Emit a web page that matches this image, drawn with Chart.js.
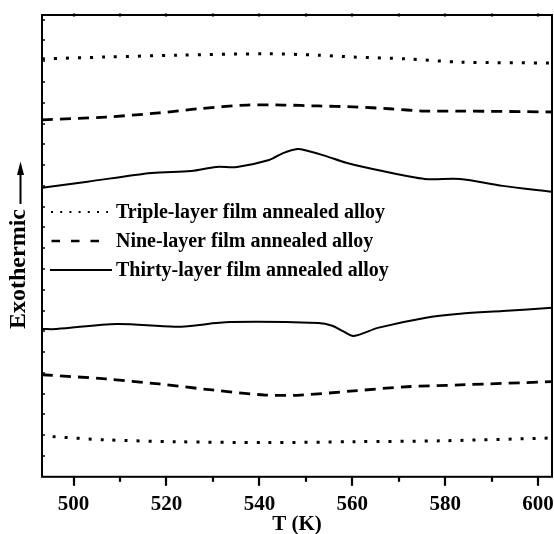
<!DOCTYPE html>
<html>
<head>
<meta charset="utf-8">
<script src="https://cdn.jsdelivr.net/npm/chart.js@4/dist/chart.umd.min.js"></script>
<style>
  html, body { margin: 0; padding: 0; background: #fff; }
  #wrap { width: 554px; height: 534px; position: relative; }
</style>
</head>
<body>
<div id="wrap"><canvas id="c" width="554" height="534"></canvas></div>
<script>
// DSC traces (heat flow, arbitrary units, vertically offset) vs. temperature T (K)
const X_TICKS = [500, 520, 540, 560, 580, 600];
const LEGEND_LABELS = [
  'Triple-layer film annealed alloy',
  'Nine-layer film annealed alloy',
  'Thirty-layer film annealed alloy'
];
const X_TITLE = 'T (K)';
const Y_TITLE = 'Exothermic';

// upper group
const tripleUpT = [493.2, 506.9, 522.2, 541.9, 552.7, 560.3, 571.7, 583.2, 603.0];
const tripleUp  = [90.5, 90.9, 91.3, 91.6, 91.3, 90.9, 90.5, 89.8, 89.6];

const nineUpT = [493.2, 506.9, 518.4, 526.8, 537.4, 545.1, 552.7, 560.3, 568.0, 575.6, 583.2, 603.0];
const nineUp  = [77.3, 77.9, 78.8, 79.7, 80.5, 80.5, 80.3, 80.1, 79.7, 79.2, 79.2, 79.0];

const thirtyUpT = [493.2, 503.0, 516.8, 525.3, 530.7, 535.2, 542.1, 545.1, 548.2, 550.3, 554.2, 558.7, 566.5, 575.6, 583.2, 592.4, 603.0];
const thirtyUp  = [62.6, 63.9, 65.8, 66.2, 67.1, 67.1, 68.6, 70.1, 71.0, 70.6, 69.5, 68.0, 66.2, 64.5, 64.5, 63.0, 61.7];

// lower group
const thirtyLowT = [493.2, 496.3, 509.3, 522.2, 533.7, 552.7, 555.7, 558.1, 560.3, 565.7, 575.6, 583.2, 592.4, 603.0];
const thirtyLow  = [32.0, 32.0, 33.1, 32.5, 33.5, 33.3, 32.7, 31.5, 30.5, 32.3, 34.4, 35.3, 35.9, 36.6];

const nineLowT = [493.2, 506.9, 518.4, 529.8, 541.3, 548.8, 560.3, 571.7, 583.2, 603.0];
const nineLow  = [22.1, 21.2, 20.1, 18.8, 17.7, 17.7, 18.6, 19.5, 19.9, 20.6];

const tripleLowT = [495.5, 506.9, 522.2, 541.3, 560.3, 579.5, 603.0];
const tripleLow  = [8.7, 8.0, 7.6, 7.4, 7.6, 7.8, 8.4];

const FONT = '"Liberation Serif", "Times New Roman", serif';
const STYLE = {
  dotted: { borderDash: [3, 9], borderWidth: 3 },
  dashed: { borderDash: [11, 7], borderWidth: 2.8 },
  solid:  { borderDash: [], borderWidth: 2 }
};

function pts(xs, ys) { return xs.map((x, i) => ({ x: x, y: ys[i] })); }
function series(label, xs, ys, kind) {
  return Object.assign({
    label: label,
    data: pts(xs, ys),
    borderColor: '#000',
    pointRadius: 0,
    tension: 0.3,
    fill: false
  }, STYLE[kind]);
}

const datasets = [
  series(LEGEND_LABELS[0], tripleUpT, tripleUp, 'dotted'),
  series(LEGEND_LABELS[1], nineUpT, nineUp, 'dashed'),
  series(LEGEND_LABELS[2], thirtyUpT, thirtyUp, 'solid'),
  series(LEGEND_LABELS[2], thirtyLowT, thirtyLow, 'solid'),
  series(LEGEND_LABELS[1], nineLowT, nineLow, 'dashed'),
  series(LEGEND_LABELS[0], tripleLowT, tripleLow, 'dotted')
];

function seg(ctx, x1, y1, x2, y2) {
  ctx.beginPath(); ctx.moveTo(x1, y1); ctx.lineTo(x2, y2); ctx.stroke();
}

// frame, tick marks, legend and axis titles
const decor = {
  id: 'decor',
  afterDraw(chart) {
    const ctx = chart.ctx, a = chart.chartArea;
    const xs = chart.scales.x, ys = chart.scales.y;
    ctx.save();
    ctx.strokeStyle = '#000';
    ctx.fillStyle = '#000';
    ctx.setLineDash([]);
    ctx.lineWidth = 2;
    ctx.strokeRect(a.left, a.top, a.right - a.left, a.bottom - a.top);

    // bottom ticks (major outward, minor shorter) and small top marks
    ctx.lineWidth = 2.2;
    for (let v = 500; v <= 600; v += 10) {
      const px = Math.round(xs.getPixelForValue(v));
      const major = X_TICKS.includes(v);
      seg(ctx, px, a.bottom, px, a.bottom + (major ? 9 : 5));
      seg(ctx, px, a.top - 1.5, px, a.top + 1.5);
    }
    // left inward ticks
    ctx.lineWidth = 1.5;
    for (let v = 4.5; v < 100; v += 4.5) {
      const py = Math.round(ys.getPixelForValue(v));
      seg(ctx, a.left, py, a.left + 3, py);
    }

    // legend
    const rows = [212, 241, 270];
    ctx.font = 'bold 20px ' + FONT;
    ctx.textBaseline = 'middle';
    ctx.textAlign = 'left';
    // dotted sample
    ctx.lineWidth = 2; ctx.setLineDash([2, 7.2]);
    seg(ctx, 51, rows[0], 108, rows[0]);
    // dashed sample
    ctx.lineWidth = 2.5; ctx.setLineDash([8.5, 11]);
    seg(ctx, 51.5, rows[1], 100, rows[1]);
    // solid sample
    ctx.lineWidth = 2; ctx.setLineDash([]);
    seg(ctx, 50, rows[2], 112, rows[2]);
    LEGEND_LABELS.forEach((t, i) => ctx.fillText(t, 116, rows[i] + 1));

    // x title
    ctx.font = 'bold 21px ' + FONT;
    ctx.textAlign = 'center';
    ctx.textBaseline = 'alphabetic';
    ctx.fillText(X_TITLE, (a.left + a.right) / 2, 530);

    // y title with arrow
    ctx.save();
    ctx.translate(25, 269);
    ctx.rotate(-Math.PI / 2);
    ctx.font = 'bold 24px ' + FONT;
    ctx.textAlign = 'center';
    ctx.textBaseline = 'alphabetic';
    ctx.fillText(Y_TITLE, 0, 0);
    ctx.restore();
    ctx.lineWidth = 2;
    seg(ctx, 20.5, 204, 20.5, 172);
    ctx.beginPath();
    ctx.moveTo(20.5, 161.5);
    ctx.lineTo(17, 175);
    ctx.lineTo(24, 175);
    ctx.closePath();
    ctx.fill();
    ctx.restore();
  }
};

new Chart(document.getElementById('c'), {
  type: 'line',
  data: { datasets: datasets },
  options: {
    responsive: false,
    animation: false,
    layout: { padding: { left: 42, right: 2, top: 15, bottom: 10 } },
    plugins: { legend: { display: false }, tooltip: { enabled: false } },
    scales: {
      x: {
        type: 'linear',
        min: 493.2,
        max: 603.0,
        grid: { display: false, drawTicks: true, tickLength: 8 },
        border: { display: false },
        afterBuildTicks: s => { s.ticks = X_TICKS.map(v => ({ value: v })); },
        afterFit: s => { s.paddingLeft = 0; s.paddingRight = 0; },
        ticks: {
          color: '#000',
          padding: 7,
          maxRotation: 0,
          font: { family: FONT, size: 21, weight: 'bold' }
        }
      },
      y: {
        type: 'linear',
        min: 0,
        max: 100,
        display: false
      }
    }
  },
  plugins: [decor]
});
</script>
</body>
</html>
